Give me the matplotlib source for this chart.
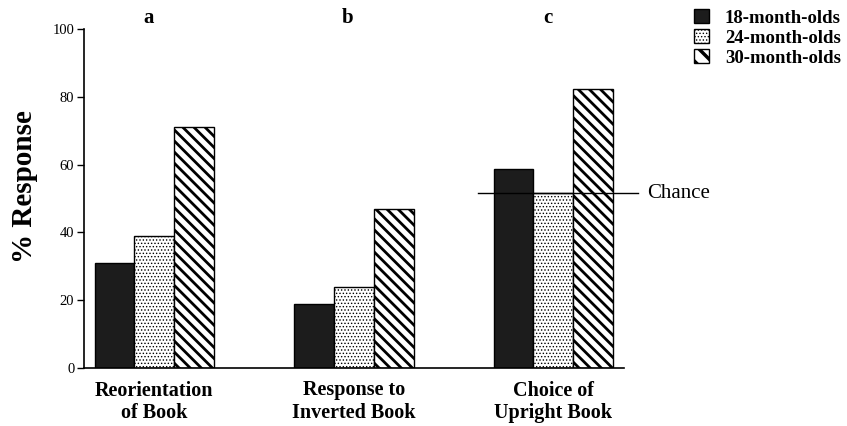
import matplotlib
matplotlib.use("Agg")
import matplotlib.pyplot as plt
import matplotlib.patches as mpatches
import numpy as np

plt.rcParams["font.family"] = ["Liberation Serif", "DejaVu Serif"]

# data
measures = ["Reorientation\nof Book", "Response to\nInverted Book", "Choice of\nUpright Book"]
panel_letters = ["a", "b", "c"]
age_groups = ["18-month-olds", "24-month-olds", "30-month-olds"]
resp_18 = [31, 19, 58.7]
resp_24 = [39, 24, 51.6]
resp_30 = [71, 47, 82.3]
chance_level = 51.6
y_ticks = [0, 20, 40, 60, 80, 100]

fig = plt.figure(figsize=(8.47, 4.26), dpi=100)
ax = fig.add_axes([84 / 847, 58 / 426, 556 / 847, 339 / 426])

x = np.arange(len(measures))
w = 0.2

b18 = ax.bar(x - w, resp_18, w, color="#1c1c1c", edgecolor="black", linewidth=1)
b24 = ax.bar(x, resp_24, w, color="white", edgecolor="black", hatch=".....", linewidth=1)
b30 = ax.bar(x + w, resp_30, w, color="white", edgecolor="black", hatch="\\\\\\", linewidth=1)
for p in b24:
    p.set_hatch_linewidth(0.6)
for p in b30:
    p.set_hatch_linewidth(2.0)

ax.set_xlim(-0.353, 2.434)
ax.set_ylim(0, 100)

# baseline and chance line
ax.plot([-0.353, 2.353], [0, 0], color="black", lw=1.2, clip_on=False)
ax.plot([1.62, 2.424], [chance_level, chance_level], color="black", lw=1, zorder=5)
ax.text(2.47, chance_level, "Chance", va="center", ha="left", fontsize=15)

for xi, letter in zip(x, panel_letters):
    ax.text(xi - 0.03, 103.2, letter, ha="center", va="center", fontsize=15,
            fontweight="bold", clip_on=False)

ax.set_yticks(y_ticks)
ax.tick_params(axis="y", direction="out", length=5, width=1, labelsize=10.5, pad=2)
ax.set_xticks(x, measures)
ax.tick_params(axis="x", length=0, labelsize=14.5, pad=9)
for lab in ax.get_xticklabels():
    lab.set_fontweight("bold")
    lab.set_linespacing(1.15)

for s in ["top", "right", "bottom"]:
    ax.spines[s].set_visible(False)
ax.spines["left"].set_linewidth(1.2)

fig.text(25 / 847, 1 - 187 / 426, "% Response", rotation=90, fontsize=21,
         fontweight="bold", va="center", ha="center")

handles = [
    mpatches.Patch(facecolor="#1c1c1c", edgecolor="black"),
    mpatches.Patch(facecolor="white", edgecolor="black", hatch="....."),
    mpatches.Patch(facecolor="white", edgecolor="black", hatch="\\\\"),
]
leg = fig.legend(handles, age_groups, loc="upper left",
                 bbox_to_anchor=(694 / 847, 1 - 9 / 426),
                 frameon=False, prop={"weight": "bold", "size": 13.5},
                 handlelength=0.8, handleheight=0.8, handletextpad=0.85,
                 labelspacing=0.12, borderaxespad=0, borderpad=0)
lp = leg.get_patches()
lp[1].set_hatch_linewidth(0.6)
lp[2].set_hatch_linewidth(2.5)

fig.savefig("out.png", dpi=100)
